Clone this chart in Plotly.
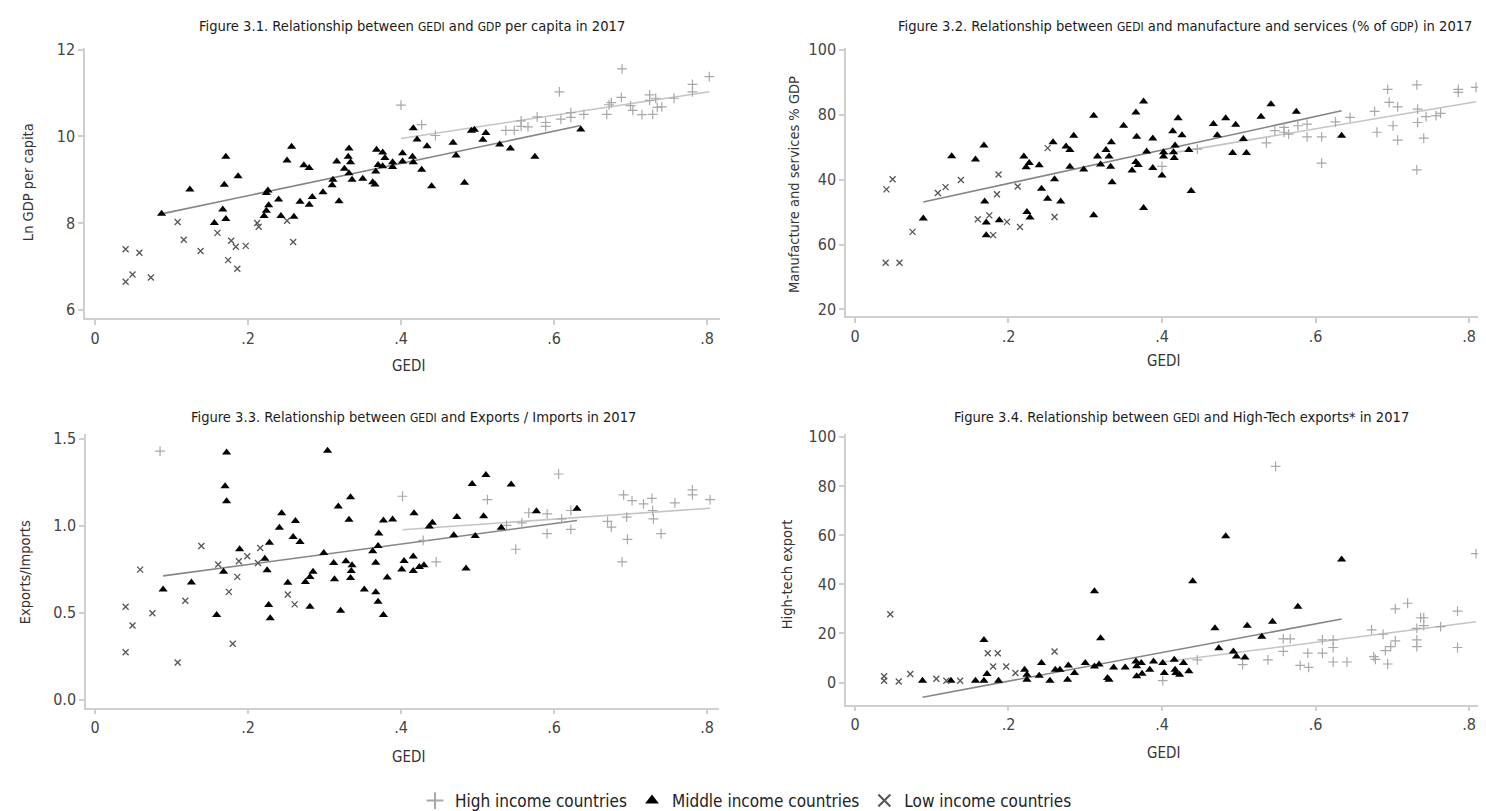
import plotly.graph_objects as go

W, H = 1486, 811
FONT = "Liberation Sans Narrow, DejaVu Sans Condensed, Arial Narrow, sans-serif"

# ---------------- Panel 1: GEDI vs Ln GDP per capita ----------------
p1_high_gedi = [0.400, 0.427, 0.445, 0.537, 0.548, 0.557, 0.557, 0.566, 0.578, 0.589, 0.589, 0.607,
                0.609, 0.622, 0.622, 0.639, 0.669, 0.672, 0.675, 0.688, 0.689, 0.700, 0.703, 0.715,
                0.725, 0.725, 0.729, 0.733, 0.735, 0.741, 0.757, 0.781, 0.781, 0.803]
p1_high_val = [10.72, 10.27, 10.02, 10.14, 10.14, 10.36, 10.23, 10.22, 10.45, 10.32, 10.23, 11.03,
               10.40, 10.55, 10.44, 10.51, 10.51, 10.73, 10.78, 10.90, 11.56, 10.71, 10.60, 10.50,
               10.96, 10.83, 10.51, 10.88, 10.67, 10.68, 10.88, 11.20, 11.03, 11.38]
p1_mid_gedi = [0.087, 0.124, 0.171, 0.169, 0.187, 0.167, 0.171, 0.156, 0.257, 0.251, 0.273, 0.280,
               0.224, 0.226, 0.227, 0.224, 0.221, 0.240, 0.243, 0.260, 0.268, 0.280, 0.284, 0.298,
               0.319, 0.310, 0.311, 0.316, 0.326, 0.331, 0.332, 0.334, 0.332, 0.336, 0.350, 0.363,
               0.366, 0.368, 0.376, 0.379, 0.370, 0.376, 0.367, 0.389, 0.389, 0.402, 0.402, 0.415,
               0.416, 0.416, 0.421, 0.434, 0.427, 0.440, 0.468, 0.472, 0.483, 0.492, 0.496, 0.511,
               0.507, 0.529, 0.543, 0.575, 0.635]
p1_mid_val = [8.21, 8.77, 9.53, 8.88, 9.08, 8.31, 8.09, 8.00, 9.76, 9.44, 9.33, 9.27,
              8.69, 8.75, 8.41, 8.28, 8.16, 8.54, 8.16, 8.14, 8.49, 8.42, 8.60, 8.71,
              8.50, 8.87, 9.00, 9.42, 9.25, 9.53, 9.72, 9.40, 9.15, 9.00, 9.02, 8.94,
              8.89, 9.69, 9.63, 9.50, 9.34, 9.31, 9.19, 9.40, 9.29, 9.61, 9.42, 9.53,
              9.40, 10.19, 9.93, 9.77, 9.23, 8.85, 9.85, 9.56, 8.93, 10.13, 10.15, 10.08,
              9.92, 9.81, 9.72, 9.53, 10.16]
p1_low_gedi = [0.040, 0.040, 0.049, 0.058, 0.073, 0.108, 0.116, 0.138, 0.160, 0.178, 0.184, 0.197,
               0.174, 0.186, 0.212, 0.214, 0.251, 0.259]
p1_low_val = [7.39, 6.64, 6.81, 7.31, 6.74, 8.02, 7.61, 7.35, 7.77, 7.59, 7.45, 7.47,
              7.14, 6.94, 8.00, 7.91, 8.05, 7.56]
p1_fit_mid = [8.21, 10.25]
p1_fit_high = [9.95, 11.03]

# ---------------- Panel 2: GEDI vs manufacture and services ----------------
p2_high_gedi = [0.400, 0.446, 0.536, 0.547, 0.559, 0.559, 0.565, 0.577, 0.589, 0.589, 0.608, 0.608,
                0.626, 0.645, 0.677, 0.680, 0.694, 0.696, 0.701, 0.707, 0.707, 0.732, 0.733, 0.733,
                0.732, 0.741, 0.744, 0.757, 0.763, 0.786, 0.786, 0.809]
p2_high_val = [64.1, 69.4, 71.3, 75.1, 76.1, 74.6, 74.0, 76.6, 77.1, 73.2, 73.2, 65.1,
               77.8, 79.2, 81.0, 74.6, 87.8, 83.8, 76.6, 82.4, 72.2, 89.2, 81.7, 77.6,
               63.0, 72.8, 79.4, 79.7, 80.4, 87.8, 86.9, 88.4]
p2_mid_gedi = [0.089, 0.126, 0.157, 0.168, 0.169, 0.171, 0.171, 0.188, 0.220, 0.227, 0.223, 0.240,
               0.224, 0.228, 0.243, 0.251, 0.268, 0.260, 0.258, 0.275, 0.280, 0.285, 0.280, 0.298,
               0.311, 0.311, 0.316, 0.320, 0.327, 0.331, 0.333, 0.334, 0.335, 0.350, 0.361, 0.366,
               0.369, 0.366, 0.376, 0.367, 0.376, 0.380, 0.388, 0.388, 0.400, 0.402, 0.402, 0.414,
               0.415, 0.416, 0.417, 0.421, 0.426, 0.435, 0.438, 0.467, 0.472, 0.483, 0.496, 0.492,
               0.506, 0.510, 0.529, 0.542, 0.575, 0.634]
p2_mid_val = [48.0, 67.2, 66.2, 70.5, 53.3, 46.8, 42.9, 47.5, 67.1, 65.1, 63.8, 64.4,
              50.0, 48.3, 57.2, 54.1, 53.3, 60.1, 71.5, 70.2, 69.1, 73.5, 64.0, 63.1,
              79.7, 49.0, 67.1, 64.7, 69.1, 67.1, 64.0, 71.5, 59.2, 76.6, 62.8, 65.4,
              64.5, 80.7, 84.1, 73.2, 51.3, 68.7, 72.7, 63.6, 61.3, 68.4, 67.1, 74.9,
              68.4, 66.7, 70.5, 78.9, 73.7, 69.1, 56.5, 77.1, 73.7, 78.9, 76.9, 68.2,
              72.5, 68.2, 79.4, 83.2, 80.9, 73.5]
p2_low_gedi = [0.040, 0.041, 0.049, 0.058, 0.075, 0.108, 0.118, 0.138, 0.160, 0.175, 0.180, 0.185,
               0.187, 0.198, 0.212, 0.215, 0.251, 0.260]
p2_low_val = [34.4, 57.0, 60.1, 34.4, 43.9, 55.9, 57.7, 59.9, 47.8, 49.0, 42.9, 55.5,
              61.6, 47.0, 57.9, 45.4, 69.7, 48.5]
p2_fit_mid = [53.1, 81.2]
p2_fit_high = [67.7, 84.0]
p2_ytick_vals = [20, 40, 60, 80, 100]
p2_ytick_text = ["20", "60", "40", "80", "100"]

# ---------------- Panel 3: GEDI vs Exports / Imports ----------------
p3_high_gedi = [0.085, 0.402, 0.429, 0.446, 0.513, 0.538, 0.550, 0.558, 0.567, 0.591, 0.591, 0.606,
                0.610, 0.622, 0.622, 0.670, 0.675, 0.689, 0.691, 0.695, 0.696, 0.702, 0.717, 0.728,
                0.729, 0.730, 0.740, 0.758, 0.781, 0.781, 0.804]
p3_high_val = [1.43, 1.170, 0.916, 0.792, 1.151, 1.002, 0.865, 1.017, 1.075, 1.069, 0.955, 1.298,
               1.040, 1.088, 0.979, 1.025, 0.992, 0.792, 1.178, 1.050, 0.922, 1.145, 1.126, 1.158,
               1.088, 1.040, 0.955, 1.132, 1.206, 1.178, 1.151]
p3_mid_gedi = [0.089, 0.126, 0.159, 0.172, 0.170, 0.172, 0.168, 0.189, 0.222, 0.225, 0.227, 0.229,
               0.228, 0.244, 0.241, 0.262, 0.259, 0.268, 0.252, 0.275, 0.281, 0.285, 0.281, 0.299,
               0.304, 0.318, 0.334, 0.332, 0.312, 0.313, 0.321, 0.328, 0.336, 0.335, 0.334, 0.352,
               0.363, 0.367, 0.370, 0.371, 0.367, 0.370, 0.377, 0.382, 0.377, 0.389, 0.401, 0.404,
               0.416, 0.416, 0.424, 0.430, 0.417, 0.437, 0.441, 0.469, 0.473, 0.485, 0.493, 0.497,
               0.508, 0.511, 0.531, 0.544, 0.577, 0.630]
p3_mid_val = [0.634, 0.674, 0.487, 1.422, 1.227, 1.141, 0.735, 0.865, 0.811, 0.744, 0.544, 0.468,
              0.903, 1.072, 0.989, 1.027, 0.935, 0.906, 0.672, 0.677, 0.706, 0.735, 0.534, 0.843,
              1.431, 1.111, 1.164, 1.035, 0.786, 0.693, 0.511, 0.796, 0.773, 0.740, 0.700, 0.634,
              0.853, 0.788, 0.883, 0.955, 0.617, 0.563, 0.487, 0.703, 1.031, 1.036, 0.748, 0.798,
              0.740, 0.824, 0.763, 0.773, 1.072, 0.996, 1.017, 0.945, 1.050, 0.754, 1.241, 0.941,
              1.055, 1.292, 0.989, 1.237, 1.084, 1.098]
p3_low_gedi = [0.040, 0.040, 0.049, 0.059, 0.075, 0.108, 0.118, 0.139, 0.161, 0.175, 0.180, 0.186,
               0.188, 0.199, 0.213, 0.216, 0.252, 0.261]
p3_low_val = [0.534, 0.273, 0.426, 0.748, 0.497, 0.214, 0.569, 0.884, 0.777, 0.620, 0.321, 0.706,
              0.796, 0.825, 0.786, 0.872, 0.605, 0.548]
p3_fit_mid = [0.712, 1.03]
p3_fit_high = [0.977, 1.101]

# ---------------- Panel 4: GEDI vs High-tech exports ----------------
p4_high_gedi = [0.401, 0.446, 0.505, 0.538, 0.548, 0.558, 0.567, 0.558, 0.580, 0.591, 0.590, 0.609,
                0.609, 0.623, 0.623, 0.623, 0.641, 0.673, 0.676, 0.678, 0.688, 0.691, 0.694, 0.698,
                0.704, 0.704, 0.720, 0.732, 0.732, 0.732, 0.737, 0.741, 0.741, 0.763, 0.785, 0.785,
                0.809]
p4_high_val = [0.8, 9.3, 7.3, 9.3, 88.0, 17.8, 17.8, 12.7, 7.0, 6.2, 12.0, 17.4,
               12.0, 17.4, 14.3, 8.4, 8.4, 21.5, 10.6, 9.5, 19.7, 13.0, 7.6, 14.7,
               17.0, 30.0, 32.3, 22.1, 17.4, 14.7, 26.4, 26.4, 23.2, 22.8, 29.1, 14.3,
               52.5]
p4_mid_gedi = [0.088, 0.125, 0.157, 0.168, 0.172, 0.168, 0.187, 0.221, 0.224, 0.224, 0.243, 0.240,
               0.254, 0.261, 0.267, 0.278, 0.277, 0.286, 0.300, 0.312, 0.312, 0.320, 0.318, 0.329,
               0.331, 0.337, 0.352, 0.366, 0.367, 0.367, 0.373, 0.374, 0.384, 0.389, 0.401, 0.403,
               0.416, 0.417, 0.418, 0.423, 0.428, 0.435, 0.440, 0.469, 0.474, 0.483, 0.493, 0.497,
               0.508, 0.511, 0.530, 0.544, 0.577, 0.634]
p4_mid_val = [0.8, 0.8, 0.8, 17.4, 3.5, 0.8, 0.8, 5.3, 3.2, 1.2, 8.0, 2.8,
              0.8, 5.3, 5.3, 7.0, 1.2, 3.9, 8.0, 37.2, 6.6, 18.1, 7.4, 1.9,
              1.2, 6.2, 6.2, 8.6, 2.6, 6.7, 8.0, 3.6, 5.3, 8.6, 8.0, 3.9,
              9.3, 5.3, 3.9, 3.2, 8.0, 4.6, 41.3, 22.1, 14.0, 59.6, 12.7, 10.6,
              10.2, 23.2, 18.7, 24.8, 30.9, 50.1]
p4_low_gedi = [0.038, 0.038, 0.046, 0.057, 0.072, 0.106, 0.119, 0.137, 0.173, 0.186, 0.180, 0.197,
               0.209, 0.260]
p4_low_val = [2.6, 0.8, 27.8, 0.5, 3.5, 1.6, 0.8, 0.8, 12.0, 12.0, 6.6, 6.6,
              3.9, 12.7]
p4_fit_mid = [-5.9, 25.9]
p4_fit_high = [8.4, 24.8]

gedi_ticks = [0, 0.2, 0.4, 0.6, 0.8]
gedi_tick_text = ["0", ".2", ".4", ".6", ".8"]

SC = "<span style='font-size:12px'>{}</span>"
titles = [
    "Figure 3.1. Relationship between " + SC.format("GEDI") + " and " + SC.format("GDP") + " per capita in 2017",
    "Figure 3.2. Relationship between " + SC.format("GEDI") + " and manufacture and services (% of " + SC.format("GDP") + ") in 2017",
    "Figure 3.3. Relationship between " + SC.format("GEDI") + " and Exports / Imports in 2017",
    "Figure 3.4. Relationship between " + SC.format("GEDI") + " and High-Tech exports* in 2017",
]
ytitles = ["Ln GDP per capita", "Manufacture and services % GDP", "Exports/Imports", "High-tech export"]
group_names = ["High income countries", "Middle income countries", "Low income countries"]

# ---------------- layout geometry (pixels) ----------------
boxes = [(77, 712, 40, 312), (838, 1476, 40, 310), (78, 711, 428, 703), (838, 1476, 428, 700)]
xranges = [[-0.0131, 0.817], [-0.0117, 0.8195], [-0.0118, 0.8157], [-0.0117, 0.8195]]
yranges = [[5.793, 12.046], [17.85, 100.61], [-0.0455, 1.5286], [-8.9, 101.2]]

fig = go.Figure()

HIGH_C = "#a8a8a8"
MID_C = "#000000"
LOW_C = "#555555"

panels = [
    (p1_high_gedi, p1_high_val, p1_mid_gedi, p1_mid_val, p1_low_gedi, p1_low_val, p1_fit_mid, p1_fit_high),
    (p2_high_gedi, p2_high_val, p2_mid_gedi, p2_mid_val, p2_low_gedi, p2_low_val, p2_fit_mid, p2_fit_high),
    (p3_high_gedi, p3_high_val, p3_mid_gedi, p3_mid_val, p3_low_gedi, p3_low_val, p3_fit_mid, p3_fit_high),
    (p4_high_gedi, p4_high_val, p4_mid_gedi, p4_mid_val, p4_low_gedi, p4_low_val, p4_fit_mid, p4_fit_high),
]

for i, (hx, hy, mx, my, lx, ly, fmid, fhigh) in enumerate(panels):
    n = i + 1
    xa = "x" if n == 1 else f"x{n}"
    ya = "y" if n == 1 else f"y{n}"
    first = (n == 1)
    hx_sorted = sorted(hx[1:] if n == 3 else hx)
    fig.add_trace(go.Scatter(x=[min(mx), max(mx)], y=fmid, mode="lines",
                             line=dict(color="#858585", width=1.6), xaxis=xa, yaxis=ya,
                             showlegend=False, hoverinfo="skip"))
    fig.add_trace(go.Scatter(x=[hx_sorted[0], hx_sorted[-1]], y=fhigh, mode="lines",
                             line=dict(color="#c4c4c4", width=1.6), xaxis=xa, yaxis=ya,
                             showlegend=False, hoverinfo="skip"))
    fig.add_trace(go.Scatter(x=hx, y=hy, mode="markers", name=group_names[0], legendgroup="h",
                             showlegend=first, xaxis=xa, yaxis=ya,
                             marker=dict(symbol="cross-thin-open", size=7, line=dict(color=HIGH_C, width=1.2), color=HIGH_C)))
    fig.add_trace(go.Scatter(x=mx, y=my, mode="markers", name=group_names[1], legendgroup="m",
                             showlegend=first, xaxis=xa, yaxis=ya,
                             marker=dict(symbol="triangle-up", size=8, color=MID_C)))
    fig.add_trace(go.Scatter(x=lx, y=ly, mode="markers", name=group_names[2], legendgroup="l",
                             showlegend=first, xaxis=xa, yaxis=ya,
                             marker=dict(symbol="x-thin-open", size=6, line=dict(color=LOW_C, width=1.3), color=LOW_C)))

axis_style = dict(showline=True, linecolor="#cfcfcf", linewidth=1.5, ticks="outside", ticklen=5,
                  tickcolor="#cfcfcf", tickwidth=1.5, showgrid=False, zeroline=False,
                  tickfont=dict(family=FONT, size=16, color="#444444"), automargin=False)

layout = dict(width=W, height=H, margin=dict(l=0, r=0, t=0, b=0),
              paper_bgcolor="white", plot_bgcolor="white",
              font=dict(family=FONT, color="#222222"))

ytick_sets = [
    dict(tickvals=[6, 8, 10, 12], ticktext=["6", "8", "10", "12"]),
    dict(tickvals=p2_ytick_vals, ticktext=p2_ytick_text),
    dict(tickvals=[0, 0.5, 1.0, 1.5], ticktext=["0.0", "0.5", "1.0", "1.5"]),
    dict(tickvals=[0, 20, 40, 60, 80, 100], ticktext=["0", "20", "40", "60", "80", "100"]),
]

annotations = []
for i, (l, r, t, b) in enumerate(boxes):
    n = i + 1
    xk = "xaxis" if n == 1 else f"xaxis{n}"
    yk = "yaxis" if n == 1 else f"yaxis{n}"
    ya = "y" if n == 1 else f"y{n}"
    xa = "x" if n == 1 else f"x{n}"
    layout[xk] = dict(axis_style, domain=[l / W, r / W], range=xranges[i], anchor=ya,
                      tickvals=gedi_ticks, ticktext=gedi_tick_text)
    layout[yk] = dict(axis_style, domain=[1 - b / H, 1 - t / H], range=yranges[i], anchor=xa,
                      **ytick_sets[i])

title_pos = [(404, 18), (1177, 18), (405, 411), (1173, 411)]
for txt, (cx, cy) in zip(titles, title_pos):
    annotations.append(dict(text=txt, x=cx / W, y=1 - cy / H, xref="paper", yref="paper",
                            showarrow=False, xanchor="center", yanchor="middle",
                            font=dict(family=FONT, size=14.6, color="#1a1a1a")))
xt_pos = [(400, 360), (1155, 355), (400, 753), (1155, 749)]
for (cx, cy) in xt_pos:
    annotations.append(dict(text="GEDI", x=cx / W, y=1 - cy / H, xref="paper", yref="paper",
                            showarrow=False, xanchor="center", yanchor="middle",
                            font=dict(family=FONT, size=15, color="#333333")))
yt_pos = [(20, 175), (786, 178), (17, 567), (779, 569)]
for txt, (cx, cy) in zip(ytitles, yt_pos):
    annotations.append(dict(text=txt, x=cx / W, y=1 - cy / H, xref="paper", yref="paper",
                            showarrow=False, xanchor="center", yanchor="middle", textangle=-90,
                            font=dict(family=FONT, size=14.5, color="#333333")))

layout["annotations"] = annotations
layout["legend"] = dict(orientation="h", x=407 / W, y=1 - 797 / H, xanchor="left", yanchor="middle",
                        font=dict(family=FONT, size=17, color="#222222"), itemsizing="constant",
                        bgcolor="rgba(0,0,0,0)")
layout["showlegend"] = True

fig.update_layout(**layout)
fig.write_html("out.html")
